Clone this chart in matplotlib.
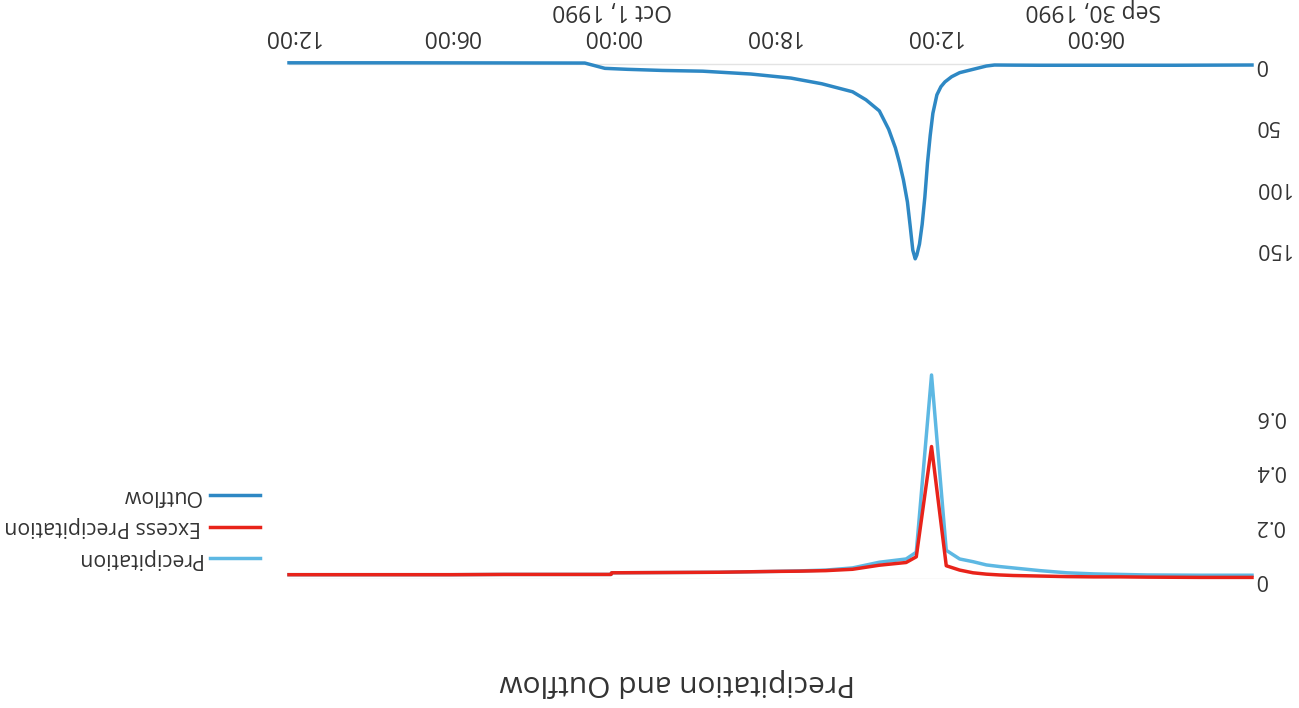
import matplotlib.pyplot as plt
from matplotlib.lines import Line2D

plt.rcParams['font.family'] = ['Open Sans', 'DejaVu Sans']

# hours after 1990-09-30 00:00
PRECIP_HOURS = [0.08, 2, 4, 5, 6, 7, 7.5, 8, 8.5, 9, 9.5, 10, 10.5, 11, 11.5, 12.05, 12.62,
                13, 14, 15, 16, 17, 18, 20, 22, 24, 24.02, 26, 28, 30, 32, 34, 36.05]
PRECIP = [0.015, 0.015, 0.016, 0.018, 0.02, 0.024, 0.028, 0.032, 0.037, 0.042, 0.047, 0.053,
          0.065, 0.075, 0.107, 0.754, 0.1, 0.075, 0.063, 0.042, 0.034, 0.031, 0.029, 0.026,
          0.025, 0.024, 0.018, 0.018, 0.018, 0.017, 0.017, 0.017, 0.017]
EXCESS = [0.007, 0.007, 0.008, 0.009, 0.009, 0.01, 0.011, 0.012, 0.013, 0.014, 0.016, 0.019,
          0.024, 0.034, 0.05, 0.49, 0.083, 0.062, 0.052, 0.037, 0.032, 0.03, 0.029, 0.026,
          0.025, 0.024, 0.018, 0.018, 0.018, 0.017, 0.017, 0.017, 0.017]

OUTFLOW_HOURS = [0.08, 3, 6, 8, 9, 9.7, 10, 10.5, 11, 11.3, 11.55, 11.7, 11.85, 12.0, 12.1,
                 12.2, 12.3, 12.4, 12.5, 12.6, 12.66, 12.75, 12.85, 12.95, 13.1, 13.25, 13.4,
                 13.65, 14.0, 14.5, 15.0, 16.15, 17.3, 18.8, 20.6, 22.1, 23.4, 24.25, 24.6,
                 25.0, 28, 32, 36.05]
OUTFLOW = [0.8, 1.0, 1.0, 1.0, 0.9, 0.8, 1.6, 4.3, 7.0, 10.3, 14.5, 18.4, 25, 40, 58,
           80, 108, 130, 146, 155, 158, 151, 131, 112, 94, 80, 68,
           53, 38, 29, 22.5, 16, 11.4, 8.1, 5.8, 5.2, 4.3, 3.5, 1.5,
           -0.8, -0.9, -1.0, -1.0]

TICK_HOURS = [6, 12, 18, 24, 30, 36]
TICK_LABELS = ['06:00\nSep 30, 1990', '12:00', '18:00', '00:00\nOct 1, 1990', '06:00', '12:00']
PRECIP_TICKS = [0, 0.2, 0.4, 0.6]
PRECIP_TICK_LABELS = ['0', '0.2', '0.4', '0.6']
OUTFLOW_TICKS = [0, 50, 100, 150]

C_PRECIP = '#5db8e3'
C_EXCESS = '#e8231a'
C_OUTFLOW = '#2e88c4'
TXT = '#333333'

W, H = 1299, 708
fig = plt.figure(figsize=(W / 100, H / 100), dpi=100)

# the whole chart is drawn turned half a turn: time runs right-to-left,
# text is upside down, and the outflow panel sits on top
ax_q = fig.add_axes([289 / W, 1 - 258.8 / H, 963 / W, 196 / H])
ax_p = fig.add_axes([289 / W, 1 - 579.3 / H, 963 / W, 204.3 / H])

for ax in (ax_q, ax_p):
    for s in ax.spines.values():
        s.set_visible(False)
    ax.axhline(0, color='#e3e3e3', lw=1, zorder=0)
    ax.set_xlim(max(PRECIP_HOURS), min(PRECIP_HOURS))
    ax.tick_params(length=0, labelsize=16.5, labelcolor=TXT)
    ax.tick_params(axis='y', labelsize=15.5, pad=1.5)
    ax.yaxis.tick_right()

ax_q.plot(OUTFLOW_HOURS, OUTFLOW, color=C_OUTFLOW, lw=2.5, clip_on=False,
          solid_joinstyle='round')
ax_q.set_ylim(max(OUTFLOW), min(OUTFLOW))
ax_q.set_yticks(OUTFLOW_TICKS)
ax_q.set_yticklabels([str(v) for v in OUTFLOW_TICKS], rotation=180, va='center')
ax_q.xaxis.tick_top()
ax_q.set_xticks(TICK_HOURS)
ax_q.set_xticklabels(TICK_LABELS, rotation=180, va='bottom', ha='center',
                     linespacing=1.1)
ax_q.tick_params(axis='x', pad=11)

ax_p.plot(PRECIP_HOURS, PRECIP, color=C_PRECIP, lw=2.5, clip_on=False)
ax_p.plot(PRECIP_HOURS, EXCESS, color=C_EXCESS, lw=2.5, clip_on=False)
ax_p.set_ylim(0, max(PRECIP))
ax_p.set_yticks(PRECIP_TICKS)
ax_p.set_yticklabels(PRECIP_TICK_LABELS, rotation=180, va='center')
ax_p.set_xticks([])

# legend, upside down as well
legend_items = [('Outflow', C_OUTFLOW, 495), ('Excess Precipitation', C_EXCESS, 527),
                ('Precipitation', C_PRECIP, 558)]
for name, col, y in legend_items:
    fig.add_artist(Line2D([210 / W, 260 / W], [1 - y / H, 1 - y / H], color=col, lw=2.5,
                          transform=fig.transFigure))
    fig.text(201 / W, 1 - y / H, name, rotation=180, ha='right', va='center',
             fontsize=15.3, color=TXT)

fig.text(677 / W, 1 - 682 / H, 'Precipitation and Outflow', rotation=180, ha='center',
         va='center', fontsize=21.5, color=TXT)

fig.savefig('out.png', dpi=100)
